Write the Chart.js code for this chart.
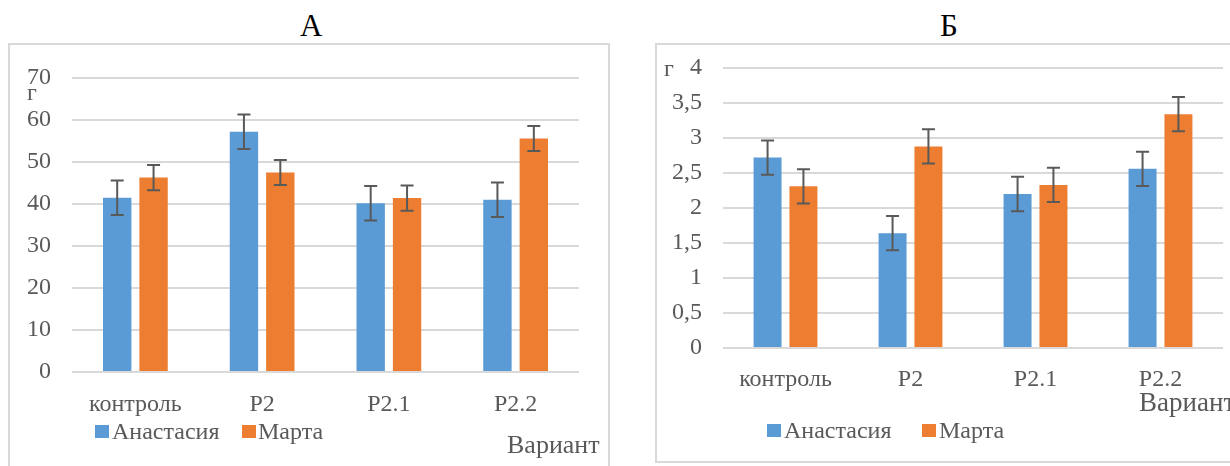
<!DOCTYPE html>
<html>
<head>
<meta charset="utf-8">
<script src="https://cdn.jsdelivr.net/npm/chart.js@4/dist/chart.umd.min.js"></script>
<style>
    body { margin: 0; width: 1230px; height: 466px; overflow: hidden; background: #fff; position: relative; font-family: 'Liberation Serif', 'Times New Roman', serif; }
    .box { position: absolute; border: 2px solid #d9d9d9; box-sizing: border-box; }
    .wrap { position: absolute; top: 0; height: 466px; }
    .txt { position: absolute; color: #595959; white-space: nowrap; line-height: 1; }
    .title { position: absolute; color: #000; font-size: 31px; line-height: 1; }
    .sq { position: absolute; width: 14px; height: 13px; }
</style>
</head>
<body>

<div class="title" style="left:300px; top:10px;">А</div>
<div class="title" style="left:940px; top:10px;">Б</div>

<div class="box" style="left:8px; top:43px; width:602px; height:440px;"></div>
<div class="box" style="left:655px; top:43px; width:590px; height:420px;"></div>

<div class="wrap" style="left:0; width:620px;"><canvas id="chartA"></canvas></div>
<div class="wrap" style="left:620px; width:610px;"><canvas id="chartB"></canvas></div>

<div class="txt" style="left:27px; top:80px; font-size:24px;">г</div>
<div class="txt" style="left:664px; top:56px; font-size:24px;">г</div>

<div class="txt" style="left:507px; top:432px; font-size:26px;">Вариант</div>
<div class="txt" style="left:1139px; top:389px; font-size:27px;">Вариант</div>

<div id="legendA"></div>
<div id="legendB"></div>

<script>
'use strict'

const categories = ['контроль', 'P2', 'P2.1', 'P2.2'];
const seriesNames = ['Анастасия', 'Марта'];
const seriesColors = ['#5b9bd5', '#ed7d31'];

// А
const massA_anastasia = [41.5, 57.2, 40.2, 41.0];
const massA_marta = [46.3, 47.5, 41.4, 55.6];
const errA_anastasia = [4.1, 4.1, 4.1, 4.1];
const errA_marta = [3.0, 3.0, 3.0, 3.0];
const ticksA = ['0', '10', '20', '30', '40', '50', '60', '70'];

// Б
const massB_anastasia = [2.72, 1.64, 2.20, 2.56];
const massB_marta = [2.31, 2.88, 2.33, 3.34];
const errB_anastasia = [0.245, 0.245, 0.245, 0.245];
const errB_marta = [0.245, 0.245, 0.245, 0.245];
const ticksB = ['0', '0,5', '1', '1,5', '2', '2,5', '3', '3,5', '4'];

const fontFamily = '"Liberation Serif", serif';


const errorBars = {
    id: 'errorBars',
    afterDatasetsDraw(chart) {
        const ctx = chart.ctx;
        const y = chart.scales.y;
        ctx.save();
        ctx.strokeStyle = '#595959';
        ctx.lineWidth = 2;
        chart.data.datasets.forEach((ds, i) => {
            const meta = chart.getDatasetMeta(i);
            meta.data.forEach((bar, j) => {
                const top = y.getPixelForValue(ds.data[j] + ds.errors[j]);
                const bot = y.getPixelForValue(ds.data[j] - ds.errors[j]);
                ctx.beginPath();
                ctx.moveTo(bar.x, top);
                ctx.lineTo(bar.x, bot);
                ctx.moveTo(bar.x - 6.5, top);
                ctx.lineTo(bar.x + 6.5, top);
                ctx.moveTo(bar.x - 6.5, bot);
                ctx.lineTo(bar.x + 6.5, bot);
                ctx.stroke();
            });
        });
        ctx.restore();
    }
};

function makeChart(id, an, ma, errAn, errMa, yMax, yStep, tickLabels, yWidth, xHeight, xPad, pad) {
    const ctx = document.getElementById(id).getContext('2d');
    return new Chart(ctx, {
        type: 'bar',
        data: {
            labels: categories,
            datasets: [{
                label: seriesNames[0],
                data: an,
                errors: errAn,
                backgroundColor: seriesColors[0],
                categoryPercentage: 0.574,
                barPercentage: 0.78
            }, {
                label: seriesNames[1],
                data: ma,
                errors: errMa,
                backgroundColor: seriesColors[1],
                categoryPercentage: 0.574,
                barPercentage: 0.78
            }]
        },
        options: {
            responsive: true,
            maintainAspectRatio: false,
            animation: false,
            layout: { padding: pad },
            plugins: {
                legend: { display: false },
                tooltip: { enabled: false }
            },
            scales: {
                x: {
                    grid: { display: false },
                    border: { display: false },
                    ticks: {
                        color: '#595959',
                        padding: xPad,
                        font: { family: fontFamily, size: 24 }
                    },
                    afterFit: (scale) => { scale.height = xHeight; }
                },
                y: {
                    min: 0,
                    max: yMax,
                    border: { display: false },
                    grid: { color: '#d9d9d9', lineWidth: 2, drawTicks: false },
                    ticks: {
                        stepSize: yStep,
                        color: '#595959',
                        padding: 21,
                        font: { family: fontFamily, size: 24 },
                        callback: (value, index) => tickLabels[index]
                    },
                    afterFit: (scale) => { scale.width = yWidth; }
                }
            }
        },
        plugins: [errorBars]
    });
}


function renderLegend(id, sqX, txtX, top) {
    const holder = document.getElementById(id);
    for (let i = 0; i < seriesNames.length; i++) {
        let sq = document.createElement('div');
        sq.className = 'sq';
        sq.style.left = sqX[i] + 'px';
        sq.style.top = (top - 6) + 'px';
        sq.style.background = seriesColors[i];
        holder.appendChild(sq);

        let t = document.createElement('div');
        t.className = 'txt';
        t.style.left = txtX[i] + 'px';
        t.style.top = (top - 12) + 'px';
        t.style.fontSize = '24px';
        t.textContent = seriesNames[i];
        holder.appendChild(t);
    }
}

renderLegend('legendA', [95, 242], [112, 258], 431);
renderLegend('legendB', [767, 922], [784, 939], 430);

function drawAll() {
    makeChart('chartA', massA_anastasia, massA_marta, errA_anastasia, errA_marta,
        70, 10, ticksA, 72, 94, 10, { left: 0, top: 78, right: 41, bottom: 0 });
    makeChart('chartB', massB_anastasia, massB_marta, errB_anastasia, errB_marta,
        4, 0.5, ticksB, 103, 118, 9, { left: 0, top: 68, right: 7, bottom: 0 });
}

document.fonts.load('24px "Liberation Serif"').then(drawAll, drawAll);
</script>
</body>
</html>
